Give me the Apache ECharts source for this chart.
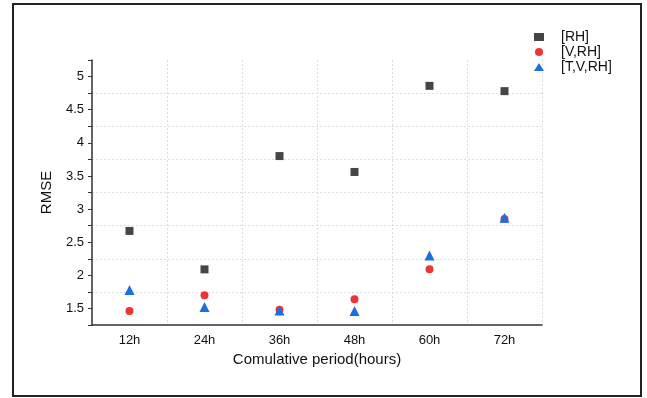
<!DOCTYPE html>
<html>
<head>
<meta charset="utf-8">
<script src="https://cdn.jsdelivr.net/npm/echarts@6/dist/echarts.min.js"></script>
<style>
  html, body { margin: 0; padding: 0; background: #fff; }
  #chart { width: 647px; height: 398px; }
</style>
</head>
<body>
<div id="chart"></div>
<script>
const categories = ['12h', '24h', '36h', '48h', '60h', '72h']
const rh = [2.67, 2.09, 3.80, 3.56, 4.86, 4.78]
const vRh = [1.46, 1.70, 1.48, 1.64, 2.09, 2.85]
const tvRh = [1.78, 1.52, 1.47, 1.46, 2.30, 2.87]

const myChart = echarts.init(document.getElementById('chart'))
const font = 'Liberation Sans, Arial, sans-serif'

const option = {
  animation: false,
  textStyle: { fontFamily: font },
  graphic: [
    {
      // outer frame
      type: 'rect',
      shape: { x: 13, y: 4, width: 628, height: 392 },
      style: { fill: 'none', stroke: '#222', lineWidth: 2 }
    }
  ],
  legend: {
    orient: 'vertical',
    left: 529,
    top: 25,
    itemWidth: 10,
    itemHeight: 8,
    itemGap: 1,
    textStyle: { color: '#111', fontSize: 14, lineHeight: 14, fontFamily: font, padding: [0, 0, 0, 12] },
    data: ['[RH]', '[V,RH]', '[T,V,RH]']
  },
  grid: { left: 92, right: 105, top: 60, bottom: 73 },
  xAxis: {
    type: 'category',
    data: categories,
    name: 'Comulative period(hours)',
    nameLocation: 'middle',
    nameGap: 27,
    nameTextStyle: { color: '#111', fontSize: 15 },
    axisLine: { lineStyle: { color: '#333', width: 1.5 } },
    axisTick: { length: 4, lineStyle: { color: '#333' } },
    axisLabel: { color: '#111', fontSize: 13, margin: 9 },
    splitLine: {
      show: true,
      lineStyle: { color: '#ddd', type: [2, 2] }
    }
  },
  yAxis: {
    type: 'value',
    min: 1.25,
    max: 5.25,
    interval: 0.25,
    name: 'RMSE',
    nameLocation: 'middle',
    nameGap: 38,
    nameTextStyle: { color: '#111', fontSize: 15 },
    axisLine: { show: true, lineStyle: { color: '#333', width: 1.5 } },
    axisTick: { show: true, length: 4, lineStyle: { color: '#333' } },
    axisLabel: {
      color: '#111',
      fontSize: 13,
      margin: 8,
      formatter: (v) => (Math.abs(v * 2 - Math.round(v * 2)) < 1e-6 && v > 1.3 && v < 5.2 ? String(v) : '')
    },
    splitLine: {
      show: true,
      showMinLine: false,
      showMaxLine: false,
      lineStyle: { color: ['transparent', '#ddd'], type: [2, 2] }
    }
  },
  series: [
    {
      name: '[RH]',
      type: 'scatter',
      data: rh,
      symbol: 'rect',
      symbolSize: 8,
      itemStyle: { color: '#454545', opacity: 1 }
    },
    {
      name: '[V,RH]',
      type: 'scatter',
      data: vRh,
      symbol: 'circle',
      symbolSize: 8,
      itemStyle: { color: '#ee3535', opacity: 1 }
    },
    {
      name: '[T,V,RH]',
      type: 'scatter',
      data: tvRh,
      symbol: 'triangle',
      symbolSize: 10,
      itemStyle: { color: '#1a6fe2', opacity: 1 }
    }
  ]
}
myChart.setOption(option)
</script>
</body>
</html>
